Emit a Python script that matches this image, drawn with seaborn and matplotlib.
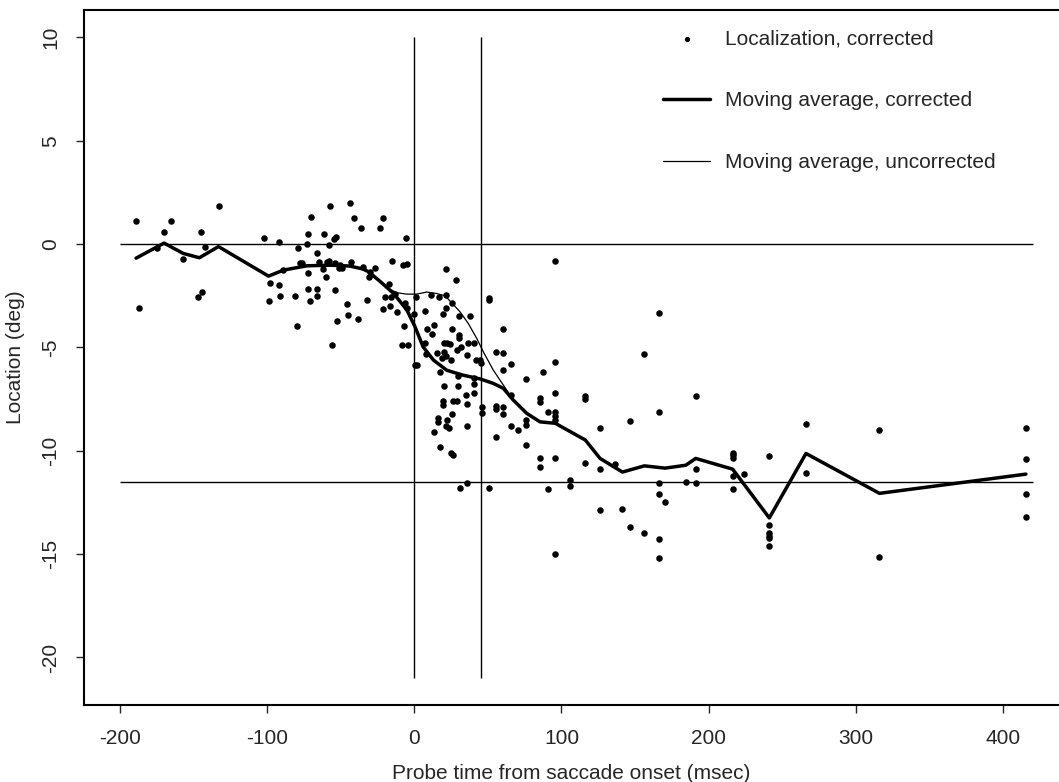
import matplotlib
matplotlib.use("Agg")
import matplotlib.pyplot as plt
import seaborn as sns
import pandas as pd

# ---------------- data ----------------
# Individual localization judgements (corrected): probe time (ms) vs location (deg)
probe_time = [
    -189, -187.3, -170, -165, -175, -157, -145, -142, -147, -144, -133,
    -102, -92, -98, -99, -92, -91, -89, -81, -80, -79, -77.5, -76, -73, -72,
    -70, -72, -72, -71, -66, -66, -66, -65, -62, -61, -60, -58, -57.5, -59.5,
    -58, -54, -56, -54.5, -53.5, -54, -51, -50.5, -49, -46, -45, -44, -43,
    -41, -38, -36.5, -35, -32, -31, -30, -27, -23, -21, -21, -20, -17.5,
    -16.5, -15, -15.5, -13, -11.5, -8.5, -4.5, -7, -7.7, -4.7, -5.6, -6, -5,
    -0.5, -52.3,
    1.2, 0.3, 2.0, 7.5, 8.5, 7.3, 7.7, 11.3, 12.2, 13.6, 15.4, 17, 17.2, 19,
    20, 21.3, 20.4, 22, 24.5, 19.5, 21.3, 21.3, 21.5, 20.5, 19.7, 19.7, 15.8,
    15.8, 13.6, 17.7, 21.3, 23.4, 25, 26, 22, 25.4, 26, 29, 24.7, 25.6, 25.6,
    28.3, 30.7, 30.7, 30.7, 28.8, 29.5, 29.7, 31.5, 30.8, 35.6, 35.8, 35.6,
    35.4, 35.6, 36.5, 37.6, 40.3, 40.5, 40.5, 40.5, 42, 44.5, 45.3, 45.7,
    45.7, 50.5, 50.8, 50.5, 55.5, 55.5, 55.5, 55.5, 60.5, 60.5, 60.5, 60.5,
    60.5, 65.5, 65.7, 65.7, 70.7, 75.7, 75.7, 75.7, 75.7, 85.6, 85.6, 85.6,
    85.6, 87.6, 90.8, 90.8, 95.8, 95.8, 95.8, 95.8, 95.8, 95.8, 95.8, 95.8,
    106, 106,
    116.2, 116.2, 116.2, 126.2, 126.2, 126.2, 136.4, 141.4, 146.4, 146.4,
    156.3, 156.3, 166.3, 166.3, 166.3, 166.3, 166.3, 166.3, 170.4, 184.4,
    191.2, 191.2, 191.2, 216.3, 216.3, 216.3, 216.3, 216.3, 224.2, 241.2,
    241.2, 241.2, 241.2, 241.2, 241.2, 266.1, 266.1, 316, 316, 415.5, 415.5,
    415.5, 415.5,
]
location = [
    1.1, -3.1, 0.57, 1.1, -0.2, -0.7, 0.57, -0.13, -2.56, -2.3, 1.84,
    0.28, 0.08, -1.87, -2.74, -1.97, -2.49, -1.26, -2.5, -3.94, -0.18, -0.89,
    -0.89, 0.0, 0.5, 1.31, -1.39, -2.18, -2.74, -0.42, -2.18, -2.49, -0.86,
    -1.19, 0.5, -1.61, -0.03, 1.84, -0.87, -0.8, -2.2, -4.88, 0.27, 0.33,
    -0.89, -1.15, -1.0, -1.14, -2.89, -3.42, 1.97, -0.87, 1.26, -3.6, 0.8,
    -1.13, -2.72, -1.61, -1.35, -1.15, 0.77, 1.28, -3.15, -2.55, -1.95, -3.0,
    -0.82, -2.56, -2.4, -3.3, -4.88, -4.88, -3.94, -1.0, -0.97, 0.3, -2.85,
    -3.1, -3.4, -3.7,
    -2.55, -5.87, -5.87, -3.26, -4.1, -4.8, -5.3, -2.48, -4.35, -3.93, -5.27,
    -2.55, -6.2, -5.5, -5.2, -5.4, -4.8, -4.8, -4.85, -3.4, -3.08, -2.47,
    -1.21, -6.85, -7.57, -7.77, -8.4, -8.6, -9.1, -9.8, -8.8, -8.9, -10.1,
    -10.2, -8.5, -8.2, -7.6, -7.6, -5.6, -4.1, -2.84, -1.75, -3.5, -4.4,
    -4.55, -5.1, -6.4, -6.85, -5.0, -11.8, -11.55, -8.8, -7.75, -7.3, -5.35,
    -4.8, -3.5, -4.8, -6.5, -6.75, -7.2, -5.6, -5.6, -5.75, -7.9, -8.15,
    -2.6, -2.7, -11.8, -5.2, -7.85, -8.0, -9.35, -4.1, -5.27, -6.1, -7.9,
    -8.2, -5.8, -7.3, -8.8, -9.0, -6.55, -8.5, -8.75, -9.7, -7.45, -7.65,
    -10.35, -10.8, -6.2, -8.1, -11.85, -0.8, -5.7, -7.2, -8.1, -8.3, -8.5,
    -10.35, -15.0, -11.4, -11.7,
    -7.35, -7.5, -10.6, -8.9, -10.9, -12.85, -10.65, -12.8, -8.56, -13.7,
    -5.34, -14.0, -3.35, -8.1, -11.55, -12.1, -14.25, -15.17, -12.5, -11.5,
    -7.35, -10.9, -11.57, -10.1, -10.2, -10.35, -11.2, -11.85, -11.1, -10.25,
    -13.6, -14.0, -14.1, -14.2, -14.6, -8.72, -11.08, -9.0, -15.15, -8.9,
    -10.4, -12.1, -13.2,
]

# Moving average, corrected (thick line)
ma_corr_time = [
    -189, -170, -157, -146, -133, -99, -89, -73, -57, -44, -35, -31, -23,
    -14, -5, 0.5, 6, 13, 22, 33, 44.6, 53.7, 60.5, 67.3, 76.4, 85.4, 95.8,
    116.2, 126.2, 141.4, 156.3, 170.4, 184.4, 191.2, 216.3, 241.2, 266.1,
    316, 415.5,
]
ma_corr_loc = [
    -0.68, 0.05, -0.45, -0.66, -0.12, -1.55, -1.26, -1.05, -1.02, -1.06,
    -1.2, -1.34, -1.82, -2.39, -3.19, -4.0, -4.97, -5.61, -6.1, -6.34,
    -6.52, -6.74, -6.98, -7.55, -8.19, -8.6, -8.67, -9.48, -10.37, -11.03,
    -10.73, -10.84, -10.7, -10.37, -10.89, -13.25, -10.13, -12.06, -11.13,
]

# Moving average, uncorrected (thin line)
ma_unc_time = [
    -189, -170, -157, -146, -133, -99, -89, -73, -57, -44, -35, -31, -23,
    -17.7, -12, -5.2, 1.6, 8.4, 15.2, 20.9, 25.4, 31, 36.7, 42.4, 46.9,
    53.7, 60.5, 67.3, 76.4, 85.4, 95.8, 116.2, 126.2, 141.4, 156.3, 170.4,
    184.4, 191.2, 216.3, 241.2, 266.1, 316, 415.5,
]
ma_unc_loc = [
    -0.68, 0.05, -0.45, -0.66, -0.12, -1.55, -1.26, -1.05, -1.02, -1.06,
    -1.2, -1.34, -1.82, -2.14, -2.35, -2.42, -2.42, -2.32, -2.39, -2.5,
    -2.84, -3.27, -3.84, -4.56, -5.21, -6.1, -6.82, -7.55, -8.19, -8.6,
    -8.67, -9.48, -10.37, -11.03, -10.73, -10.84, -10.7, -10.37, -10.89,
    -13.25, -10.13, -12.06, -11.13,
]

# Reference lines: start / target positions, saccade onset / offset
ref_levels = [0, -11.5]
ref_level_span = [-200, 420]
ref_times = [0, 45]
ref_time_span = [-21, 10]

x_ticks = [-200, -100, 0, 100, 200, 300, 400]
y_ticks = [-20, -15, -10, -5, 0, 5, 10]
x_label = "Probe time from saccade onset (msec)"
y_label = "Location (deg)"
legend_labels = ["Localization, corrected",
                 "Moving average, corrected",
                 "Moving average, uncorrected"]

# ---------------- plot ----------------
sns.set_style("ticks")
plt.rcParams["font.family"] = ["Liberation Sans", "DejaVu Sans"]

fig = plt.figure(figsize=(10.59, 7.82), dpi=100)
ax = fig.add_axes([0.0793, 0.0985, 0.9207, 0.8885])

pts = pd.DataFrame({"t": probe_time, "loc": location})
ma_c = pd.DataFrame({"t": ma_corr_time, "loc": ma_corr_loc})
ma_u = pd.DataFrame({"t": ma_unc_time, "loc": ma_unc_loc})

ax.hlines(ref_levels, ref_level_span[0], ref_level_span[1], color="black", lw=1.0, zorder=1)
ax.vlines(ref_times, ref_time_span[0], ref_time_span[1], color="black", lw=1.0, zorder=1)

sns.scatterplot(data=pts, x="t", y="loc", ax=ax, color="black", s=22,
                linewidth=0, label=legend_labels[0], zorder=3)
sns.lineplot(data=ma_u, x="t", y="loc", ax=ax, color="black", lw=0.9,
             sort=False, estimator=None, label=legend_labels[2], zorder=2)
sns.lineplot(data=ma_c, x="t", y="loc", ax=ax, color="black", lw=2.5,
             sort=False, estimator=None, label=legend_labels[1], zorder=4)

ax.set_xlim(-224.4, 438)
ax.set_ylim(-22.3, 11.32)
ax.set_xticks(x_ticks)
ax.set_yticks(y_ticks)
ax.set_xticklabels([str(v) for v in x_ticks], fontsize=15)
ax.set_yticklabels([str(v) for v in y_ticks], fontsize=15, rotation=90, va="center")
ax.tick_params(axis="x", length=6, width=1.0, pad=11, direction="out")
ax.tick_params(axis="y", length=6, width=1.0, pad=11, direction="out")
ax.set_xlabel(x_label, fontsize=15, labelpad=12)
ax.set_ylabel(y_label, fontsize=15, labelpad=12)

for side in ["left", "bottom", "top"]:
    ax.spines[side].set_visible(True)
    ax.spines[side].set_linewidth(1.5)
    ax.spines[side].set_color("black")
ax.spines["right"].set_visible(False)

handles, labels = ax.get_legend_handles_labels()
order = [labels.index(l) for l in legend_labels]
leg = ax.legend([handles[i] for i in order], [labels[i] for i in order],
                loc="upper left", bbox_to_anchor=(0.594, 0.972), frameon=False,
                fontsize=15, handlelength=2.25, handletextpad=0.7,
                labelspacing=2.05, borderpad=0, borderaxespad=0, markerscale=0.8)

fig.savefig("out.png", dpi=100, facecolor="white")
